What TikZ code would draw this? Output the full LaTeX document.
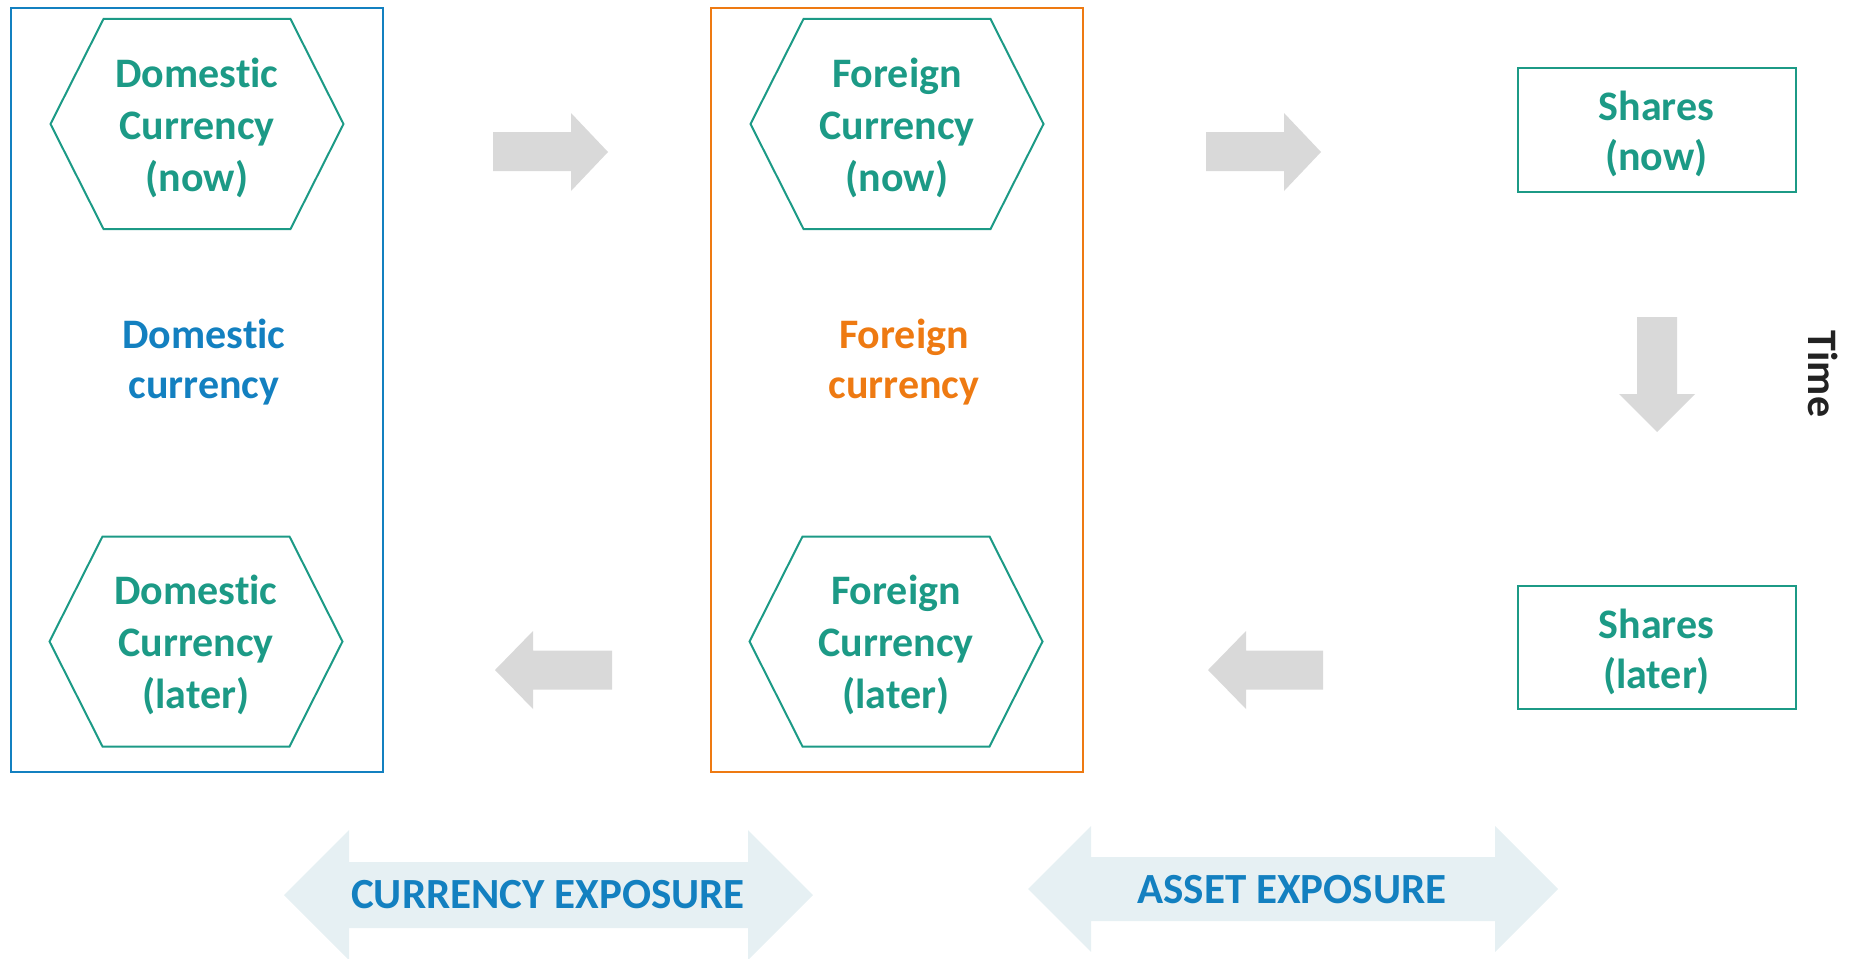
\documentclass[tikz,border=0pt]{standalone}
\usepackage{fontspec}
\setmainfont{Carlito}[Ligatures=NoCommon]
\usetikzlibrary{calc}
\definecolor{tealc}{HTML}{1C9A86}
\definecolor{bluec}{HTML}{1380C0}
\definecolor{orangec}{HTML}{EE7A12}
\definecolor{grayarr}{HTML}{D9D9D9}
\definecolor{lightbl}{HTML}{E6F0F3}
\definecolor{darkc}{HTML}{222222}
\begin{document}
\begin{tikzpicture}[x=1pt,y=-1pt,
  lbl/.style={font=\fontsize{42}{50}\selectfont\bfseries, text=tealc, align=center, inner sep=0pt},
  hexlbl/.style={lbl, font=\fontsize{42}{52}\selectfont\bfseries},
  hexline/.style={draw=tealc, line width=2pt, line join=miter},
  sharebox/.style={draw=tealc, line width=2pt, minimum width=278pt, minimum height=123pt, inner sep=0pt},
  bluebox/.style={draw=bluec, line width=2pt},
  orangebox/.style={draw=orangec, line width=2pt},
  grayshape/.style={fill=grayarr},
  expshape/.style={fill=lightbl},
  exptext/.style={font=\fontsize{43}{50}\selectfont\bfseries, text=bluec, inner sep=0pt}
]
\useasboundingbox (0,0) rectangle (1849,958);

% group frames
\draw[bluebox] (11,8) rectangle (383,772);
\draw[orangebox] (711,8) rectangle (1083,772);

% hexagon labels
\node[hexlbl] (dn) at (197,128) {Domestic\\Currency\\(now)};
\node[hexlbl] (dl) at (196,645) {Domestic\\Currency\\(later)};
\node[hexlbl] (fn) at (897,128) {Foreign\\Currency\\(now)};
\node[hexlbl] (fl) at (896,645) {Foreign\\Currency\\(later)};
\coordinate (hdn) at (197,124);
\coordinate (hdl) at (196,641.5);
\coordinate (hfn) at (897,124);
\coordinate (hfl) at (896,641.5);
\foreach \n in {hdn,hdl,hfn,hfl}
  \draw[hexline] ($(\n)+(-146.5,0)$) -- ($(\n)+(-93.5,-105)$) -- ($(\n)+(93.5,-105)$)
    -- ($(\n)+(146.5,0)$) -- ($(\n)+(93.5,105)$) -- ($(\n)+(-93.5,105)$) -- cycle;

% group labels
\node[lbl, text=bluec] (dc) at (204,362) {Domestic\\currency};
\node[lbl, text=orangec] (fc) at (904,362) {Foreign\\currency};

% shares
\node[sharebox] (sn) at (1656.5,130) {};
\node[sharebox] (sl) at (1656.5,647.5) {};
\node[lbl] (snt) at ($(sn)+(0,4)$) {Shares\\(now)};
\node[lbl] (slt) at ($(sl)+(0,4)$) {Shares\\(later)};

% time
\node[font=\fontsize{42}{46}\selectfont\bfseries, text=darkc, rotate=-90, inner sep=0pt] (time) at (1823,374) {Time};

% gray block arrows
\fill[grayshape] (493,132) -- (571,132) -- (571,113) -- (608,152) -- (571,191) -- (571,171) -- (493,171) -- cycle;
\fill[grayshape] (1206,132) -- (1284,132) -- (1284,113) -- (1321,152) -- (1284,191) -- (1284,171) -- (1206,171) -- cycle;
\fill[grayshape] (1637,317) -- (1677,317) -- (1677,394) -- (1695,394) -- (1657,432) -- (1619,394) -- (1637,394) -- cycle;
\fill[grayshape] (1323,650.5) -- (1246,650.5) -- (1246,631) -- (1208,670) -- (1246,709) -- (1246,689.5) -- (1323,689.5) -- cycle;
\fill[grayshape] (612,650.5) -- (533,650.5) -- (533,631) -- (495,670) -- (533,709) -- (533,689.5) -- (612,689.5) -- cycle;

% exposure arrows
\fill[expshape] (284,895) -- (349,830) -- (349,862) -- (748,862) -- (748,830) -- (813,895) -- (748,960) -- (748,928) -- (349,928) -- (349,960) -- cycle;
\fill[expshape] (1028,889) -- (1091,826) -- (1091,857) -- (1495,857) -- (1495,826) -- (1558,889) -- (1495,952) -- (1495,921) -- (1091,921) -- (1091,952) -- cycle;
\node[exptext] (ce) at (548,895) {CURRENCY EXPOSURE};
\node[exptext] (ae) at (1292,890) {ASSET EXPOSURE};
\end{tikzpicture}
\end{document}
